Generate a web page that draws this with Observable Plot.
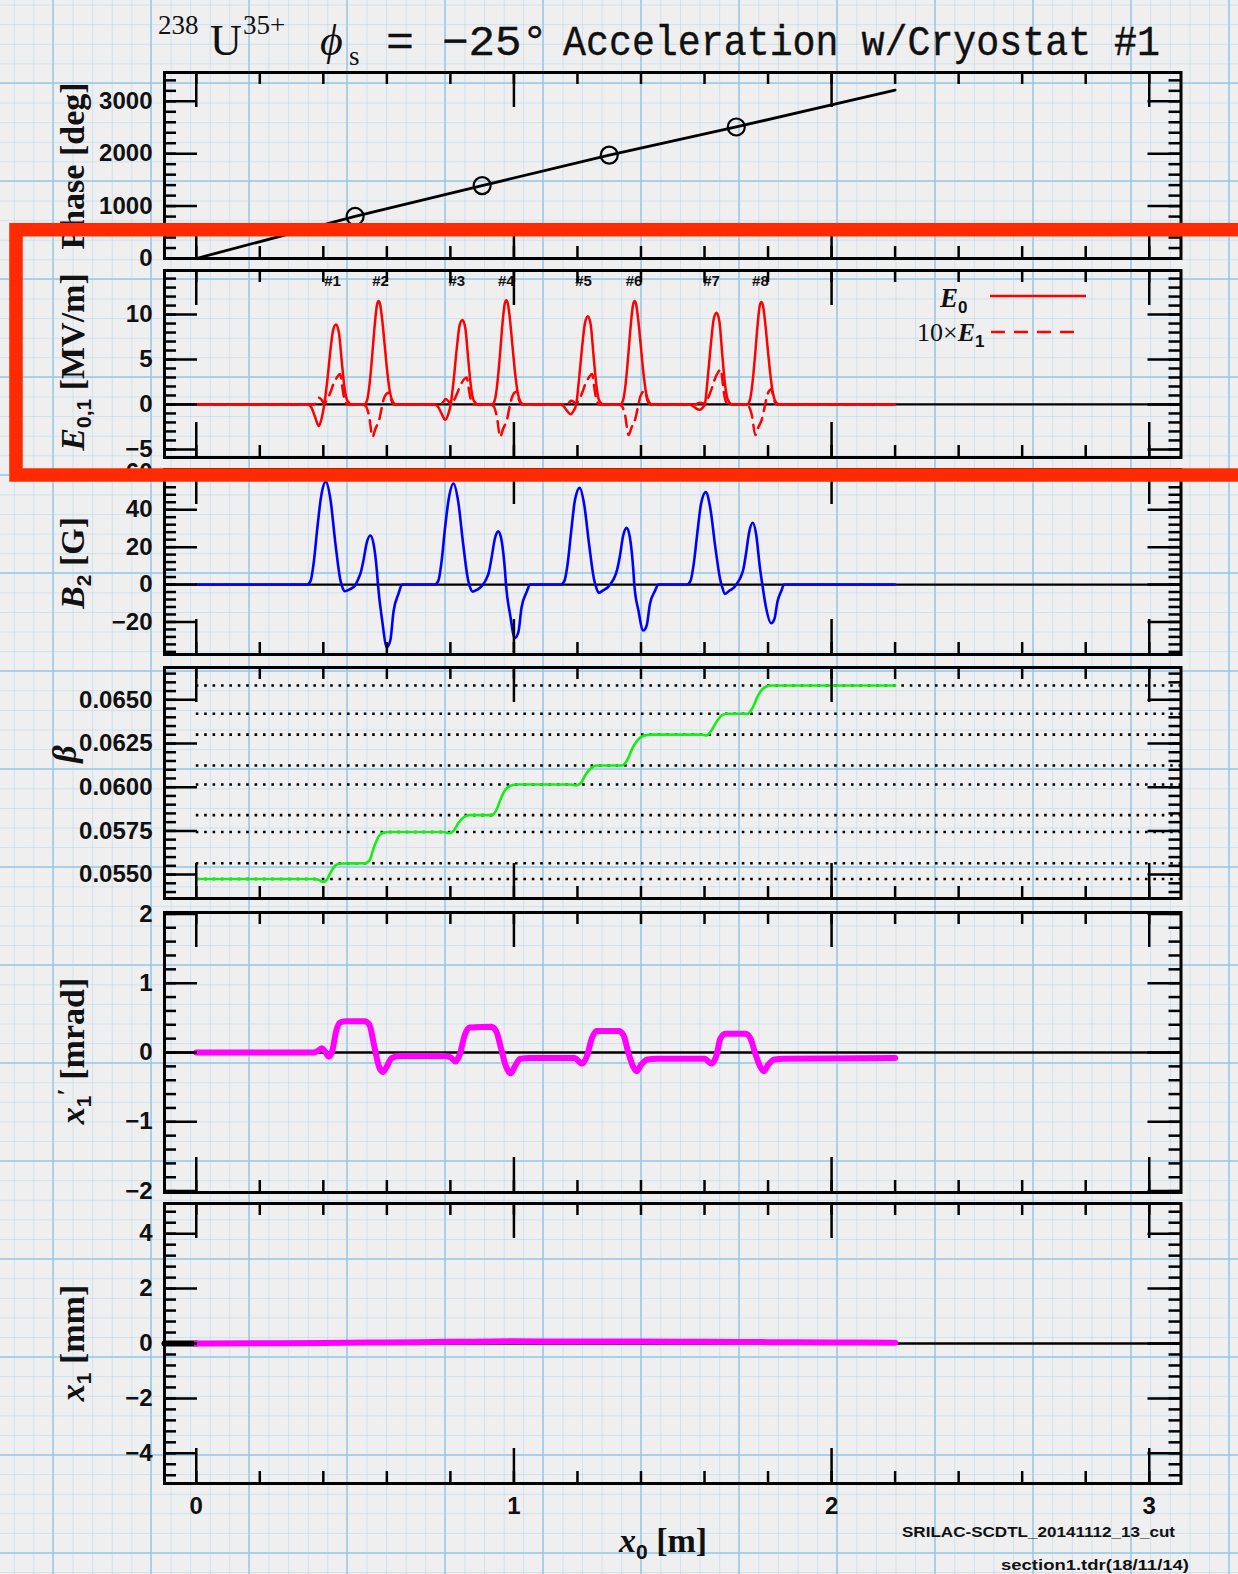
<!DOCTYPE html>
<html><head><meta charset="utf-8">
<script src="https://cdn.jsdelivr.net/npm/d3@7"></script>
<script src="https://cdn.jsdelivr.net/npm/@observablehq/plot@0.6"></script>
<style>
html,body{margin:0;padding:0;}
body{width:1238px;height:1574px;overflow:hidden;position:relative;
 background-color:#efefef;
 background-image:
  linear-gradient(to right, rgba(150,200,232,0.75) 2px, transparent 2px),
  linear-gradient(to bottom, rgba(150,200,232,0.75) 2px, transparent 2px),
  linear-gradient(to right, rgba(170,208,235,0.45) 1px, transparent 1px),
  linear-gradient(to bottom, rgba(170,208,235,0.45) 1px, transparent 1px);
 background-size: 98px 98px, 98px 98px, 19.6px 19.6px, 19.6px 19.6px;
 background-position: 52px 82px, 52px 82px, 13.8px 4.6px, 13.8px 4.6px;
}
.panel{position:absolute;left:0;}
#overlay{position:absolute;left:0;top:0;}
</style></head><body>
<div id="panels"></div>
<svg id="overlay" width="1238" height="1574">
 <g fill="#111" font-family="Liberation Serif">
  <text x="158" y="34" font-size="27">238</text>
  <text x="210" y="55" font-size="44">U</text>
  <text x="243" y="34" font-size="27">35+</text>
  <text x="320" y="55" font-size="44" font-style="italic">ϕ</text>
  <text x="349" y="65" font-size="27">s</text>
 </g>
 <g fill="#111" font-family="Liberation Mono" stroke="#111" stroke-width="0.4">
  <text x="386" y="55" font-size="42" textLength="28" lengthAdjust="spacingAndGlyphs">=</text>
  <text x="442" y="55" font-size="42" textLength="106" lengthAdjust="spacingAndGlyphs">−25°</text>
  <text x="563" y="55" font-size="42" textLength="597" lengthAdjust="spacingAndGlyphs">Acceleration w/Cryostat #1</text>
 </g>
 <g fill="#111" font-family="Liberation Serif" font-weight="bold" font-size="34" text-anchor="middle">
  <text transform="translate(84,166) rotate(-90)">Phase [deg]</text>
  <text transform="translate(84,362) rotate(-90)"><tspan font-style="italic">E</tspan><tspan font-size="21" font-family="Liberation Sans" dy="7">0,1</tspan><tspan dy="-7"> [MV/m]</tspan></text>
  <text transform="translate(84,563) rotate(-90)"><tspan font-style="italic">B</tspan><tspan font-size="21" font-family="Liberation Sans" dy="7">2</tspan><tspan dy="-7"> [G]</tspan></text>
  <text transform="translate(76,754) rotate(-90)" font-style="italic">β</text>
  <text transform="translate(84,1051) rotate(-90)"><tspan font-style="italic">x</tspan><tspan font-size="21" font-family="Liberation Sans" dy="7">1</tspan><tspan dy="-16" font-size="26">′</tspan><tspan dy="9"> [mrad]</tspan></text>
  <text transform="translate(84,1343) rotate(-90)"><tspan font-style="italic">x</tspan><tspan font-size="21" font-family="Liberation Sans" dy="7">1</tspan><tspan dy="-7"> [mm]</tspan></text>
 </g>
 <g fill="#111" font-family="Liberation Serif" font-size="34" font-weight="bold">
  <text x="619" y="1552"><tspan font-style="italic">x</tspan><tspan font-size="21" font-family="Liberation Sans" dy="7">0</tspan><tspan dy="-7"> [m]</tspan></text>
 </g>
 <g fill="#111" font-family="Liberation Sans" font-weight="bold" font-size="15">
  <text x="902" y="1537" textLength="273" lengthAdjust="spacingAndGlyphs">SRILAC-SCDTL_20141112_13_cut</text>
  <text x="1001" y="1570" textLength="188" lengthAdjust="spacingAndGlyphs">section1.tdr(18/11/14)</text>
 </g>
 <g fill="#111">
  <text x="940" y="307" font-family="Liberation Serif" font-size="27" font-style="italic" font-weight="bold">E<tspan font-family="Liberation Sans" font-style="normal" font-size="17" dy="6">0</tspan></text>
  <line x1="990" x2="1086" y1="296" y2="296" stroke="#ff0000" stroke-width="2.5"/>
  <text x="917" y="341" font-family="Liberation Serif" font-size="26">10×<tspan font-style="italic" font-weight="bold">E</tspan><tspan font-family="Liberation Sans" font-weight="bold" font-size="17" dy="6">1</tspan></text>
  <line x1="991" x2="1079" y1="332" y2="332" stroke="#ff0000" stroke-width="2.5" stroke-dasharray="14,9"/>
 </g>
 <rect x="16" y="229.7" width="1300" height="245.3" fill="none" stroke="#ff2a00" stroke-width="13.5"/>
</svg>
<script>
// ---------- data ----------
const X_DOMAIN = [-0.1, 3.1];
const X_MAJOR = [0, 1, 2, 3];
const X_LABELS = ["0", "1", "2", "3"];

const PHASE_LINE = [[0,0],[0.5,803],[0.9,1391],[1.3,1973],[1.7,2510],[2.2,3213]];
const PHASE_MARKERS = [[0.5,803],[0.9,1391],[1.3,1973],[1.7,2510]];

const CAVITY_LABELS = ["#1","#2","#3","#4","#5","#6","#7","#8"];
const CAVITY_X = [0.429,0.58,0.82,0.976,1.219,1.378,1.622,1.776];

const E0 = [[0,0],[0.35,0],[0.362,-0.3],[0.374,-1.4],[0.386,-2.4],[0.395,-1.5],[0.403,0],[0.412,2.5],[0.422,5.9],[0.431,8.3],[0.44,8.9],[0.449,8.0],[0.458,4.8],[0.467,1.8],[0.476,0.4],[0.49,0],
 [0.529,0],[0.538,0.5],[0.546,2.4],[0.554,5.5],[0.562,8.9],[0.569,11.1],[0.574,11.5],[0.579,11.1],[0.586,9.2],[0.594,6.3],[0.602,3.4],[0.61,1.3],[0.619,0.3],[0.629,0],
 [0.748,0],[0.76,-0.2],[0.772,-1.0],[0.784,-1.7],[0.793,-1.1],[0.801,0],[0.81,2.6],[0.82,6.2],[0.829,8.8],[0.838,9.4],[0.847,8.5],[0.856,5.1],[0.865,1.9],[0.874,0.4],[0.888,0],
 [0.931,0],[0.94,0.5],[0.948,2.4],[0.956,5.5],[0.964,9.0],[0.971,11.2],[0.976,11.6],[0.981,11.2],[0.988,9.3],[0.996,6.3],[1.004,3.4],[1.012,1.3],[1.021,0.3],[1.031,0],
 [1.143,0],[1.155,-0.15],[1.167,-0.7],[1.179,-1.1],[1.188,-0.7],[1.196,0],[1.205,2.8],[1.215,6.5],[1.224,9.1],[1.233,9.8],[1.242,8.8],[1.251,5.3],[1.26,2.0],[1.269,0.4],[1.283,0],
 [1.335,0],[1.344,0.5],[1.352,2.4],[1.36,5.5],[1.368,8.9],[1.375,11.1],[1.38,11.5],[1.385,11.1],[1.392,9.2],[1.4,6.3],[1.408,3.4],[1.416,1.3],[1.425,0.3],[1.435,0],
 [1.548,0],[1.56,-0.1],[1.572,-0.4],[1.584,-0.6],[1.593,-0.4],[1.601,0],[1.61,2.9],[1.62,6.7],[1.629,9.5],[1.638,10.2],[1.647,9.2],[1.656,5.5],[1.665,2.1],[1.674,0.5],[1.688,0],
 [1.734,0],[1.743,0.5],[1.751,2.4],[1.759,5.4],[1.767,8.8],[1.774,11.0],[1.779,11.4],[1.784,11.0],[1.791,9.1],[1.799,6.2],[1.807,3.4],[1.815,1.3],[1.824,0.3],[1.834,0],[2.2,0]];

const E1x10 = [[0,0],[0.37,0],[0.38,0.4],[0.387,0.75],[0.395,0.5],[0.402,0.1],[0.41,0.4],[0.424,1.5],[0.432,2.3],[0.445,3.1],[0.453,3.4],[0.46,1.9],[0.465,0.8],[0.476,0],
 [0.524,0],[0.534,-0.2],[0.544,-1.3],[0.555,-3.6],[0.564,-2.7],[0.576,-1.7],[0.586,0],[0.592,0.8],[0.605,1.3],[0.616,0.3],[0.624,0],
 [0.768,0],[0.778,0.3],[0.785,0.6],[0.793,0.4],[0.8,0.1],[0.808,0.3],[0.822,1.3],[0.83,2.0],[0.843,2.8],[0.851,3.0],[0.858,1.7],[0.863,0.7],[0.874,0],
 [0.926,0],[0.936,-0.2],[0.946,-1.3],[0.957,-3.6],[0.966,-2.7],[0.978,-1.7],[0.988,0],[0.994,0.8],[1.007,1.4],[1.018,0.3],[1.026,0],
 [1.163,0],[1.173,0.2],[1.18,0.4],[1.188,0.3],[1.195,0.1],[1.203,0.4],[1.217,1.5],[1.225,2.3],[1.238,3.1],[1.246,3.4],[1.253,1.9],[1.258,0.8],[1.269,0],
 [1.33,0],[1.34,-0.2],[1.35,-1.2],[1.361,-3.4],[1.37,-2.6],[1.382,-1.6],[1.392,0],[1.398,0.9],[1.411,1.5],[1.422,0.3],[1.43,0],
 [1.568,0],[1.578,0.1],[1.585,0.2],[1.593,0.15],[1.6,0.1],[1.608,0.5],[1.622,1.7],[1.63,2.6],[1.643,3.6],[1.651,3.9],[1.658,2.2],[1.663,0.9],[1.674,0],
 [1.729,0],[1.739,-0.2],[1.749,-1.2],[1.76,-3.4],[1.769,-2.6],[1.781,-1.6],[1.791,0],[1.797,1.0],[1.81,1.7],[1.821,0.3],[1.829,0],[2.2,0]];

const B2 = [[0,0],[0.348,0],[0.36,2],[0.37,12],[0.381,30],[0.393,47],[0.408,55],[0.422,46],[0.438,22],[0.453,3],[0.46,-1.5],[0.468,-3.6],[0.483,-2.6],[0.5,-0.5],
 [0.51,3],[0.518,6.5],[0.526,12.6],[0.537,22.5],[0.548,26.2],[0.558,21.8],[0.569,6.5],[0.572,0],[0.585,-18.9],[0.6,-33.5],[0.611,-29.8],[0.621,-14.4],[0.637,-4.7],[0.648,0],
 [0.75,0],[0.762,2],[0.772,12],[0.783,30],[0.795,46],[0.81,54],[0.824,45],[0.84,22],[0.855,3],[0.862,-1.5],[0.87,-3.8],[0.885,-2.7],[0.903,0],
 [0.913,3],[0.921,6.5],[0.929,13.7],[0.94,24.5],[0.951,28.5],[0.961,23.7],[0.972,7.1],[0.975,0],[0.988,-16.1],[1.003,-28.5],[1.014,-25.4],[1.024,-12.3],[1.04,-4],[1.051,0],
 [1.147,0],[1.159,2],[1.169,11],[1.18,28],[1.192,45],[1.207,51.7],[1.221,43],[1.237,21],[1.252,3],[1.259,-1.5],[1.267,-4.4],[1.282,-3],[1.297,-1.3],
 [1.307,1],[1.317,4],[1.325,8],[1.333,14.6],[1.344,26.2],[1.355,30.3],[1.365,25.3],[1.376,7.5],[1.379,0],[1.392,-13.9],[1.407,-24.6],[1.418,-21.9],[1.428,-10.5],[1.444,-3.4],[1.455,0],
 [1.544,0],[1.556,2],[1.566,11],[1.577,27],[1.589,43],[1.604,49.4],[1.618,41],[1.634,20],[1.649,3],[1.656,-1.5],[1.664,-5],[1.679,-3.2],[1.694,-1.4],
 [1.704,1],[1.714,4],[1.722,8],[1.73,15.8],[1.741,28.4],[1.752,33],[1.762,27.4],[1.775,8.2],[1.782,0],[1.793,-11.7],[1.81,-20.7],[1.82,-18.4],[1.83,-8.9],[1.843,-2.9],[1.85,0],[2.2,0]];

const BETA = [[0,0.05475],[0.37,0.05475],[0.385,0.0547],[0.4,0.05458],[0.41,0.05468],[0.425,0.0552],[0.44,0.05555],[0.455,0.05563],[0.53,0.05565],
 [0.545,0.0558],[0.56,0.0566],[0.575,0.0572],[0.59,0.0574],[0.61,0.05744],[0.78,0.05744],[0.795,0.05736],[0.81,0.0575],[0.825,0.05795],[0.845,0.05832],[0.86,0.0584],
 [0.93,0.0584],[0.945,0.0587],[0.96,0.0594],[0.975,0.0599],[0.995,0.06012],[1.005,0.06015],[1.18,0.06015],[1.195,0.0601],[1.21,0.06022],[1.225,0.0607],[1.245,0.06112],[1.26,0.06124],
 [1.34,0.06124],[1.355,0.0615],[1.375,0.0623],[1.395,0.0628],[1.415,0.06298],[1.43,0.06301],[1.59,0.06301],[1.605,0.06296],[1.62,0.0632],[1.64,0.0638],[1.655,0.06412],[1.67,0.0642],
 [1.735,0.0642],[1.75,0.0645],[1.77,0.0653],[1.79,0.06572],[1.81,0.06582],[2.2,0.06582]];
const BETA_LEVELS = [0.05475,0.05565,0.05744,0.0584,0.06015,0.06124,0.06301,0.0642,0.06582];

const XP1 = [[0,0],[0.37,0],[0.385,0.03],[0.395,0.06],[0.405,0.02],[0.417,-0.06],[0.428,0.02],[0.44,0.3],[0.452,0.43],[0.47,0.45],[0.53,0.45],[0.545,0.4],[0.56,0.1],[0.575,-0.2],[0.588,-0.28],[0.6,-0.2],[0.615,-0.08],[0.64,-0.05],
 [0.78,-0.05],[0.8,-0.07],[0.816,-0.13],[0.83,-0.02],[0.845,0.25],[0.86,0.36],[0.93,0.37],[0.945,0.3],[0.96,0.05],[0.975,-0.2],[0.99,-0.3],[1.003,-0.2],[1.02,-0.09],[1.05,-0.08],
 [1.19,-0.08],[1.215,-0.16],[1.23,-0.05],[1.245,0.2],[1.26,0.31],[1.33,0.31],[1.345,0.25],[1.36,0.0],[1.375,-0.2],[1.387,-0.27],[1.4,-0.18],[1.42,-0.1],[1.45,-0.09],
 [1.6,-0.09],[1.622,-0.16],[1.637,-0.05],[1.65,0.2],[1.665,0.27],[1.73,0.27],[1.745,0.2],[1.76,-0.02],[1.775,-0.2],[1.787,-0.27],[1.8,-0.18],[1.82,-0.1],[1.85,-0.09],[2.2,-0.08]];

const X1 = [[0,0],[0.2,0.01],[0.4,0.02],[0.6,0.04],[0.8,0.06],[1.0,0.08],[1.2,0.07],[1.4,0.07],[1.6,0.06],[1.8,0.05],[2.0,0.04],[2.2,0.03]];
const X1_LEAD = [[-0.1,0],[0,0]];

// ---------- layout ----------
const W = 1238, ML = 164, MR = 57.5;
const kx = (W - ML - MR) / (X_DOMAIN[1] - X_DOMAIN[0]);
const xMinor = d3.range(0, 3.001, 0.2).map(v => +v.toFixed(3));

function panel({top, height, yDomain, majors, minorStep, fmt, marks, xLabels = false, zero = true}) {
  const [x0, x1] = X_DOMAIN, [y0, y1] = yDomain;
  const ky = height / (y1 - y0);
  const yMinor = d3.range(Math.ceil(y0 / minorStep) * minorStep, y1, minorStep);
  const line = {stroke: "black", strokeWidth: 2.5};
  const mb = xLabels ? 40 : 0;
  const svg = Plot.plot({
    width: W, height: height + mb,
    marginLeft: ML, marginRight: MR, marginTop: 0, marginBottom: mb,
    x: {domain: X_DOMAIN, axis: null},
    y: {domain: yDomain, axis: null},
    marks: [
      zero ? Plot.ruleY([0], {x1: x0, x2: x1, stroke: "black", strokeWidth: 2.3}) : null,
      ...marks,
      Plot.ruleY(majors, {y: d => d, x1: x0, x2: x0 + 33 / kx, ...line}),
      Plot.ruleY(yMinor, {y: d => d, x1: x0, x2: x0 + 12 / kx, ...line}),
      Plot.ruleY(majors, {y: d => d, x1: x1 - 33 / kx, x2: x1, ...line}),
      Plot.ruleY(yMinor, {y: d => d, x1: x1 - 12 / kx, x2: x1, ...line}),
      Plot.ruleX(X_MAJOR, {x: d => d, y1: y1, y2: y1 - 35 / ky, ...line}),
      Plot.ruleX(xMinor, {x: d => d, y1: y1, y2: y1 - 12 / ky, ...line}),
      Plot.ruleX(X_MAJOR, {x: d => d, y1: y0, y2: y0 + 35 / ky, ...line}),
      Plot.ruleX(xMinor, {x: d => d, y1: y0, y2: y0 + 12 / ky, ...line}),
      Plot.frame({stroke: "black", strokeWidth: 3}),
      Plot.text(majors, {x: x0, y: d => d, text: fmt, dx: -12, textAnchor: "end",
        fontSize: 24, fontWeight: "bold", fontFamily: "Liberation Sans", fill: "#111"}),
      xLabels ? Plot.text(X_MAJOR, {x: d => d, y: y0, text: (d, i) => X_LABELS[i], dy: 23,
        fontSize: 24, fontWeight: "bold", fontFamily: "Liberation Sans", fill: "#111"}) : null
    ].filter(Boolean)
  });
  svg.classList.add("panel");
  svg.style.top = top + "px";
  svg.style.background = "transparent";
  svg.style.overflow = "visible";
  svg.style.maxWidth = "none";
  document.getElementById("panels").appendChild(svg);
}

const tx = d => d[0], ty = d => d[1];
const fInt = d => d3.format("d")(d);
const CURVE = "monotone-x";

panel({top: 72, height: 186, yDomain: [0, 3550], majors: [0, 1000, 2000, 3000], minorStep: 200, fmt: fInt, zero: false,
  marks: [
    Plot.line(PHASE_LINE, {x: tx, y: ty, stroke: "black", strokeWidth: 2.8}),
    Plot.dot(PHASE_MARKERS, {x: tx, y: ty, r: 8.5, stroke: "black", strokeWidth: 2.2, fill: "none"})
  ]});

panel({top: 270, height: 187, yDomain: [-5.9, 14.9], majors: [-5, 0, 5, 10], minorStep: 1, fmt: fInt,
  marks: [
    Plot.line(E0, {x: tx, y: ty, stroke: "#ff0000", strokeWidth: 2.5, curve: CURVE}),
    Plot.line(E1x10, {x: tx, y: ty, stroke: "#ff0000", strokeWidth: 2.5, strokeDasharray: "11,7", curve: CURVE}),
    Plot.text(CAVITY_LABELS, {x: (d, i) => CAVITY_X[i], y: 13.7, text: d => d, fontSize: 15,
      fontWeight: "bold", fontFamily: "Liberation Sans", fill: "#111"})
  ]});

panel({top: 469, height: 185, yDomain: [-37.4, 61.5], majors: [-20, 0, 20, 40, 60], minorStep: 4, fmt: fInt,
  marks: [Plot.line(B2, {x: tx, y: ty, stroke: "#0000ff", strokeWidth: 2.6, curve: CURVE})]});

panel({top: 667, height: 231, yDomain: [0.05363, 0.06685], majors: [0.055, 0.0575, 0.06, 0.0625, 0.065], minorStep: 0.0005,
  fmt: d => d3.format(".4f")(d), zero: false,
  marks: [
    Plot.ruleY(BETA_LEVELS, {y: d => d, x1: 0, x2: X_DOMAIN[1], stroke: "black", strokeWidth: 2.6, strokeDasharray: "2.6,5.8"}),
    Plot.line(BETA, {x: tx, y: ty, stroke: "#14ee14", strokeWidth: 2.6, curve: CURVE})
  ]});

panel({top: 912, height: 280, yDomain: [-2.02, 2.02], majors: [-2, -1, 0, 1, 2], minorStep: 0.2, fmt: fInt,
  marks: [Plot.line(XP1, {x: tx, y: ty, stroke: "#ff00ff", strokeWidth: 6, strokeLinecap: "round", strokeLinejoin: "round", curve: CURVE})]});

panel({top: 1203, height: 280, yDomain: [-5.1, 5.1], majors: [-4, -2, 0, 2, 4], minorStep: 0.4, fmt: fInt, xLabels: true,
  marks: [
    Plot.line(X1_LEAD, {x: tx, y: ty, stroke: "black", strokeWidth: 6}),
    Plot.line(X1, {x: tx, y: ty, stroke: "#ff00ff", strokeWidth: 6, strokeLinecap: "round", curve: CURVE})
  ]});
</script>
</body></html>
